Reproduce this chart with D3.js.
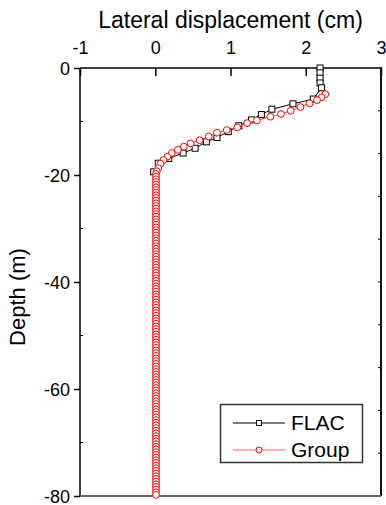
<!DOCTYPE html>
<html>
    <head>
        <meta charset="utf-8">
        <title>Lateral displacement</title>
        <script src="https://cdnjs.cloudflare.com/ajax/libs/d3/7.8.5/d3.min.js"></script>
        <style>
            body { margin: 0; background: #fff; }
            text { font-family: "Liberation Sans", Arial, sans-serif; fill: #000; }
        </style>
    </head>
    <body>
        <script type="text/javascript">

            // FLAC results (depth in m, displacement in cm)
            var flac_depth = [0, 0.9, 1.9, 2.8, 3.7, 5.8, 6.7, 7.7, 8.7, 9.7, 10.8, 11.9, 13.0, 13.8, 15.0, 15.9, 16.9, 17.8, 19.4];
            var flac_disp  = [2.19, 2.19, 2.19, 2.19, 2.21, 2.10, 1.83, 1.55, 1.41, 1.28, 1.11, 0.97, 0.82, 0.68, 0.53, 0.37, 0.18, 0.04, -0.02];

            // Group results
            var group_depth = [4.9, 5.5, 6.0, 6.6, 7.3, 8.0, 8.6, 9.1, 9.8, 10.3, 11.1, 11.6, 12.1, 12.8, 13.5, 14.1, 14.7, 15.3, 15.9, 16.6, 17.2, 17.9, 18.7, 19.3, 19.8,
                20.3, 20.8, 21.3, 21.8, 22.3, 22.8, 23.3, 23.8, 24.3, 24.8, 25.3, 25.8, 26.3, 26.8, 27.3, 27.8, 28.3, 28.8, 29.3, 29.8,
                30.3, 30.8, 31.3, 31.8, 32.3, 32.8, 33.3, 33.8, 34.3, 34.8, 35.3, 35.8, 36.3, 36.8, 37.3, 37.8, 38.3, 38.8, 39.3, 39.8,
                40.3, 40.8, 41.3, 41.8, 42.3, 42.8, 43.3, 43.8, 44.3, 44.8, 45.3, 45.8, 46.3, 46.8, 47.3, 47.8, 48.3, 48.8, 49.3, 49.8,
                50.3, 50.8, 51.3, 51.8, 52.3, 52.8, 53.3, 53.8, 54.3, 54.8, 55.3, 55.8, 56.3, 56.8, 57.3, 57.8, 58.3, 58.8, 59.3, 59.8,
                60.3, 60.8, 61.3, 61.8, 62.3, 62.8, 63.3, 63.8, 64.3, 64.8, 65.3, 65.8, 66.3, 66.8, 67.3, 67.8, 68.3, 68.8, 69.3, 69.8,
                70.3, 70.8, 71.3, 71.8, 72.3, 72.8, 73.3, 73.8, 74.3, 74.8, 75.3, 75.8, 76.3, 76.8, 77.3, 77.8, 78.3, 78.8, 79.3, 79.8];
            var group_disp = [2.26, 2.21, 2.15, 2.05, 1.93, 1.80, 1.67, 1.53, 1.35, 1.22, 1.09, 0.95, 0.82, 0.71, 0.59, 0.47, 0.38, 0.30, 0.22, 0.16, 0.11, 0.07, 0.04, 0.02, 0.01,
                0.01, 0.01, 0.01, 0.01, 0.01, 0.01, 0.01, 0.01, 0.01, 0.01, 0.01, 0.01, 0.01, 0.01, 0.01, 0.01, 0.01, 0.01, 0.01, 0.01,
                0.01, 0.01, 0.01, 0.01, 0.01, 0.01, 0.01, 0.01, 0.01, 0.01, 0.01, 0.01, 0.01, 0.01, 0.01, 0.01, 0.01, 0.01, 0.01, 0.01,
                0.01, 0.01, 0.01, 0.01, 0.01, 0.01, 0.01, 0.01, 0.01, 0.01, 0.01, 0.01, 0.01, 0.01, 0.01, 0.01, 0.01, 0.01, 0.01, 0.01,
                0.01, 0.01, 0.01, 0.01, 0.01, 0.01, 0.01, 0.01, 0.01, 0.01, 0.01, 0.01, 0.01, 0.01, 0.01, 0.01, 0.01, 0.01, 0.01, 0.01,
                0.01, 0.01, 0.01, 0.01, 0.01, 0.01, 0.01, 0.01, 0.01, 0.01, 0.01, 0.01, 0.01, 0.01, 0.01, 0.01, 0.01, 0.01, 0.01, 0.01,
                0.01, 0.01, 0.01, 0.01, 0.01, 0.01, 0.01, 0.01, 0.01, 0.01, 0.01, 0.01, 0.01, 0.01, 0.01, 0.01, 0.01, 0.01, 0.01, 0.01];

            // Tick values
            var x_ticks = [-1, 0, 1, 2, 3];
            var y_ticks = [0, -20, -40, -60, -80];
            var y_minor = [-10, -30, -50, -70];
            var right_ticks = [-8, -16, -24, -32, -40, -48, -56, -64, -72];

            var svg_width = 386;
            var svg_height = 505;
            var m_left = 80, m_right = 381, m_top = 68, m_bottom = 496;

            var svg = d3.select("body")
                      .append("svg")
                      .attr("width", svg_width)
                      .attr("height", svg_height);

            var xScale = d3.scaleLinear().domain([-1, 3]).range([m_left, m_right]);
            var yScale = d3.scaleLinear().domain([0, -80]).range([m_top, m_bottom]);

            // Top axis, ticks pointing inward
            var top_axis = svg.append("g")
                              .attr("transform", "translate(0," + m_top + ")")
                              .call(d3.axisBottom(xScale).tickValues(x_ticks).tickSize(8));
            top_axis.select(".domain").remove();
            top_axis.selectAll("line").attr("stroke", "#000").attr("stroke-width", 1.5);
            top_axis.selectAll("text")
                    .attr("y", -14)
                    .attr("dy", 0)
                    .style("font-size", "18px")
                    .text(function(d) { return d < 0 ? "-" + Math.abs(d) : d; });

            // Left axis
            var left_axis = svg.append("g")
                               .attr("transform", "translate(" + m_left + ",0)")
                               .call(d3.axisLeft(yScale).tickValues(y_ticks).tickSize(6).tickPadding(4));
            left_axis.select(".domain").remove();
            left_axis.selectAll("line").attr("stroke", "#000").attr("stroke-width", 1.5);
            left_axis.selectAll("text")
                     .style("font-size", "18px")
                     .attr("dy", "0.35em")
                     .text(function(d) { return d < 0 ? "-" + Math.abs(d) : d; });

            // Left minor ticks, inward
            svg.selectAll(".yminor")
               .data(y_minor)
               .enter()
               .append("line")
               .attr("x1", m_left)
               .attr("x2", m_left + 3)
               .attr("y1", function(d) { return yScale(d); })
               .attr("y2", function(d) { return yScale(d); })
               .attr("stroke", "#000")
               .attr("stroke-width", 1);

            // Right ticks, inward
            svg.selectAll(".rtick")
               .data(right_ticks)
               .enter()
               .append("line")
               .attr("x1", m_right - 3)
               .attr("x2", m_right)
               .attr("y1", function(d) { return yScale(d); })
               .attr("y2", function(d) { return yScale(d); })
               .attr("stroke", "#000")
               .attr("stroke-width", 1);

            // Frame
            svg.append("line").attr("x1", m_left).attr("x2", m_right).attr("y1", m_top).attr("y2", m_top)
               .attr("stroke", "#000").attr("stroke-width", 1.5);
            svg.append("line").attr("x1", m_left).attr("x2", m_left).attr("y1", m_top).attr("y2", m_bottom)
               .attr("stroke", "#000").attr("stroke-width", 1.5);
            svg.append("line").attr("x1", m_right).attr("x2", m_right).attr("y1", m_top - 1).attr("y2", m_bottom)
               .attr("stroke", "#111").attr("stroke-width", 2);
            svg.append("line").attr("x1", m_left).attr("x2", m_right).attr("y1", m_bottom).attr("y2", m_bottom)
               .attr("stroke", "#666").attr("stroke-width", 2);

            // Axis titles
            svg.append("text")
               .attr("x", (m_left + m_right) / 2)
               .attr("y", 28)
               .style("text-anchor", "middle")
               .style("font-size", "23px")
               .text("Lateral displacement (cm)");

            svg.append("text")
               .attr("transform", "translate(25,297) rotate(-90)")
               .style("text-anchor", "middle")
               .style("font-size", "22px")
               .text("Depth (m)");

            var flac = flac_depth.map(function(d, i) { return [flac_disp[i], -d]; });
            var group = group_depth.map(function(d, i) { return [group_disp[i], -d]; });

            var line = d3.line()
                         .x(function(d) { return xScale(d[0]); })
                         .y(function(d) { return yScale(d[1]); });

            // FLAC series
            svg.append("path")
               .datum(flac)
               .attr("d", line)
               .attr("fill", "none")
               .attr("stroke", "#000")
               .attr("stroke-width", 1);

            svg.selectAll(".sq")
               .data(flac)
               .enter()
               .append("rect")
               .attr("x", function(d) { return xScale(d[0]) - 3; })
               .attr("y", function(d) { return yScale(d[1]) - 3; })
               .attr("width", 6)
               .attr("height", 6)
               .attr("fill", "#fff")
               .attr("stroke", "#000")
               .attr("stroke-width", 1);

            // Group series
            svg.append("path")
               .datum(group)
               .attr("d", line)
               .attr("fill", "none")
               .attr("stroke", "#ff4040")
               .attr("stroke-width", 1);

            svg.selectAll(".circ")
               .data(group)
               .enter()
               .append("circle")
               .attr("cx", function(d) { return xScale(d[0]); })
               .attr("cy", function(d) { return yScale(d[1]); })
               .attr("r", 3.4)
               .attr("fill", "#fff")
               .attr("stroke", "#ff0000")
               .attr("stroke-width", 1);

            // Legend
            var legend = svg.append("g");
            legend.append("rect")
                  .attr("x", 220.5)
                  .attr("y", 404.5)
                  .attr("width", 142)
                  .attr("height", 58)
                  .attr("fill", "#fff")
                  .attr("stroke", "#333")
                  .attr("stroke-width", 1.5);

            var legend_items = [
                { name: "FLAC", y: 423, stroke: "#000", mark: "rect" },
                { name: "Group", y: 450, stroke: "#ff6060", mark: "circle" }
            ];

            legend_items.forEach(function(item) {
                legend.append("line")
                      .attr("x1", 233).attr("x2", 285)
                      .attr("y1", item.y).attr("y2", item.y)
                      .attr("stroke", item.stroke).attr("stroke-width", 1);
                if (item.mark == "rect") {
                    legend.append("rect")
                          .attr("x", 256.5).attr("y", item.y - 2.5)
                          .attr("width", 5).attr("height", 5)
                          .attr("fill", "#fff").attr("stroke", "#000");
                } else {
                    legend.append("circle")
                          .attr("cx", 259).attr("cy", item.y)
                          .attr("r", 3)
                          .attr("fill", "#fff").attr("stroke", "#ff0000");
                }
                legend.append("text")
                      .attr("x", 291)
                      .attr("y", item.y + 7)
                      .style("font-size", "21px")
                      .text(item.name);
            });

        </script>
    </body>
</html>
